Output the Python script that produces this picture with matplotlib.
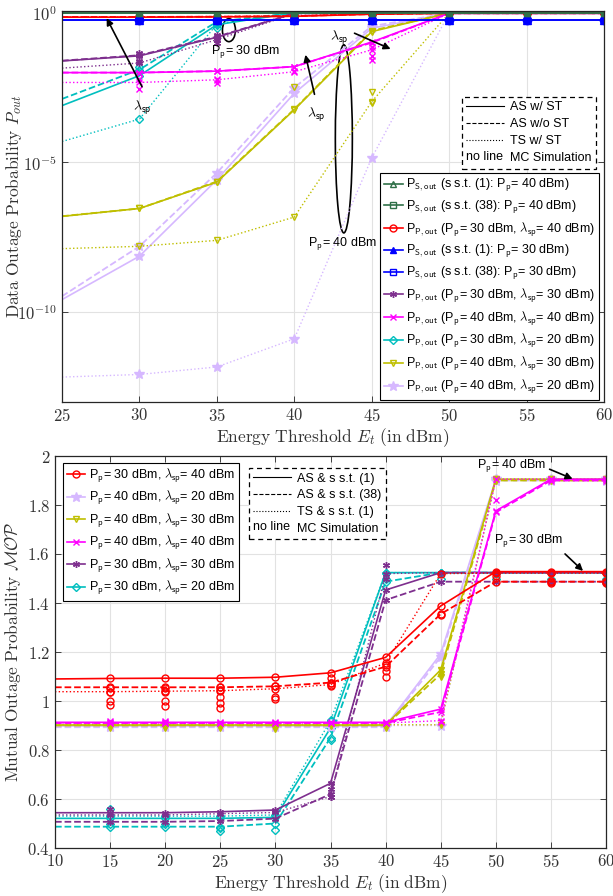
import matplotlib
matplotlib.use("Agg")
import matplotlib.pyplot as plt
from matplotlib.lines import Line2D
from matplotlib.patches import Ellipse
from matplotlib.text import Text
from matplotlib.ticker import FixedLocator, FuncFormatter, NullLocator
from matplotlib.legend_handler import HandlerBase

plt.rcParams["font.family"] = ["Liberation Sans", "DejaVu Sans"]
plt.rcParams["mathtext.fontset"] = "cm"

# ---------------- top panel : data outage probability (log scale)
et_top = [25, 30, 35, 40, 45, 50, 55, 60]

ps_s1_40 = [0.977, 0.977, 0.977, 0.977, 0.977, 0.977, 0.977, 0.977]
ps_s38_40 = [0.975, 0.975, 0.975, 0.975, 0.975, 0.975, 0.975, 0.975]
ps_s1_30 = [0.575, 0.575, 0.575, 0.575, 0.575, 0.575, 0.575, 0.575]
ps_s38_30 = [0.572, 0.572, 0.572, 0.572, 0.572, 0.572, 0.572, 0.572]

red_top_solid = [0.708, 0.708, 0.724, 0.759, 0.891, 0.96, 0.96, 0.96]
red_top_dashed = [0.72, 0.72, 0.735, 0.77, 0.9, 0.96, 0.96, 0.96]
red_top_dotted = [0.73, 0.73, 0.745, 0.78, 0.91, 0.96, 0.96, 0.96]

pur_top_solid = [2.45e-2, 3.63e-2, 0.151, 0.955, 0.96, 0.96, 0.96, 0.96]
pur_top_dashed = [2.5e-2, 3.8e-2, 0.158, 0.955, 0.96, 0.96, 0.96, 0.96]
pur_top_dotted = [1.41e-2, 2.09e-2, 0.126, 0.933, 0.96, 0.96, 0.96, 0.96]
pur_top_mc_x = [30, 30, 35, 35, 35]
pur_top_mc_y = [4.47e-2, 2.5e-2, 0.178, 0.141, 0.1]

mag_top_solid = [1.0e-2, 1.0e-2, 1.12e-2, 1.58e-2, 0.105, 0.96, 0.96, 0.96]
mag_top_dashed = [1.0e-2, 1.0e-2, 1.12e-2, 1.58e-2, 0.1, 0.96, 0.96, 0.96]
mag_top_dotted = [4.68e-3, 4.68e-3, 5.75e-3, 1.07e-2, 5.75e-2, 0.96, 0.96, 0.96]
mag_top_mc_x = [30, 30, 35, 35, 40, 45, 45, 45]
mag_top_mc_y = [6.3e-3, 2.82e-3, 6.3e-3, 4.47e-3, 1.12e-2, 7.4e-2, 3.55e-2, 2.63e-2]

cya_top_solid = [7.9e-4, 7.9e-3, 0.398, 0.99, 0.99, 0.97, 0.97, 0.97]
cya_top_dashed = [1.32e-3, 1.26e-2, 0.5, 0.99, 0.99, 0.97, 0.97, 0.97]
cya_top_dotted = [5.0e-5, 2.8e-4, 0.417, 0.99, 0.99, 0.97, 0.97, 0.97]
cya_top_mc_x = [30, 30, 35, 35]
cya_top_mc_y = [1.58e-2, 1.12e-2, 0.447, 0.316]

oli_top_solid = [1.58e-7, 2.9e-7, 2.2e-6, 5.75e-4, 0.234, 0.97, 0.97, 0.97]
oli_top_dashed = [1.6e-7, 2.9e-7, 2.3e-6, 6.0e-4, 0.25, 0.97, 0.97, 0.97]
oli_top_dotted = [1.32e-8, 1.58e-8, 2.5e-8, 1.5e-7, 1.07e-3, 0.97, 0.97, 0.97]
oli_top_mc_x = [40, 45, 45]
oli_top_mc_y = [3.2e-3, 2.24e-3, 1.0e-3]

vio_top_solid = [2.63e-10, 7.4e-9, 2.63e-6, 2.04e-3, 0.302, 0.97, 0.97, 0.97]
vio_top_dashed = [3.4e-10, 1.58e-8, 4.47e-6, 3.16e-3, 0.355, 0.97, 0.97, 0.97]
vio_top_dotted = [6.8e-13, 8.3e-13, 1.48e-12, 1.29e-11, 1.41e-5, 0.97, 0.97, 0.97]

# ---------------- bottom panel : mutual outage probability
et_bot = [10, 15, 20, 25, 30, 35, 40, 45, 50, 55, 60]

red_bot_solid = [1.090, 1.092, 1.093, 1.093, 1.097, 1.115, 1.178, 1.388, 1.528, 1.528, 1.528]
red_bot_dashed = [1.056, 1.056, 1.056, 1.056, 1.060, 1.075, 1.140, 1.355, 1.487, 1.487, 1.487]
red_bot_dotted = [1.038, 1.038, 1.040, 1.042, 1.050, 1.067, 1.155, 1.520, 1.522, 1.522, 1.522]
red_bot_mc_x = [15, 15, 15, 15, 20, 20, 20, 20, 25, 25, 25, 25, 25, 30, 30, 30,
                35, 35, 35, 40, 40, 40, 45, 50, 55, 55, 60, 60]
red_bot_mc_y = [1.055, 1.035, 1.0, 0.985, 1.055, 1.035, 1.0, 0.98, 1.058, 1.017, 0.99, 0.973, 1.045,
                1.061, 1.018, 1.01, 1.093, 1.075, 1.061, 1.147, 1.124, 1.099, 1.351, 1.51, 1.49, 1.48,
                1.49, 1.48]

vio_bot_solid = [0.898, 0.898, 0.898, 0.898, 0.898, 0.898, 0.898, 1.192, 1.905, 1.905, 1.905]
vio_bot_dashed = [0.893, 0.893, 0.893, 0.893, 0.893, 0.893, 0.893, 1.18, 1.9, 1.9, 1.9]
vio_bot_dotted = [0.9, 0.9, 0.9, 0.9, 0.9, 0.9, 0.9, 0.9, 1.905, 1.905, 1.905]

oli_bot_solid = [0.902, 0.902, 0.902, 0.902, 0.902, 0.902, 0.902, 1.127, 1.905, 1.905, 1.905]
oli_bot_dashed = [0.9, 0.9, 0.9, 0.9, 0.9, 0.9, 0.9, 1.11, 1.9, 1.9, 1.9]
oli_bot_dotted = [0.903, 0.903, 0.903, 0.903, 0.903, 0.903, 0.903, 0.903, 1.905, 1.905, 1.905]
oli_bot_mc_x = [15, 20, 25, 30, 40, 45]
oli_bot_mc_y = [0.89, 0.89, 0.89, 0.885, 0.89, 1.1]

mag_bot_solid = [0.913, 0.913, 0.913, 0.913, 0.913, 0.913, 0.913, 0.967, 1.776, 1.905, 1.905]
mag_bot_dashed = [0.91, 0.91, 0.91, 0.91, 0.91, 0.91, 0.91, 0.955, 1.77, 1.9, 1.9]
mag_bot_dotted = [0.91, 0.91, 0.91, 0.91, 0.91, 0.91, 0.91, 0.92, 1.905, 1.905, 1.905]
mag_bot_mc_x = [15, 20, 45, 50]
mag_bot_mc_y = [0.92, 0.92, 0.916, 1.82]

pur_bot_solid = [0.544, 0.544, 0.544, 0.548, 0.555, 0.664, 1.453, 1.524, 1.524, 1.524, 1.524]
pur_bot_dashed = [0.507, 0.507, 0.507, 0.51, 0.52, 0.62, 1.412, 1.487, 1.487, 1.487, 1.487]
pur_bot_dotted = [0.535, 0.535, 0.535, 0.54, 0.545, 0.61, 1.52, 1.524, 1.524, 1.524, 1.524]
pur_bot_mc_x = [15, 35, 35, 40, 40]
pur_bot_mc_y = [0.56, 0.64, 0.61, 1.555, 1.5]

cya_bot_solid = [0.521, 0.521, 0.521, 0.521, 0.525, 0.89, 1.524, 1.524, 1.524, 1.524, 1.524]
cya_bot_dashed = [0.487, 0.487, 0.487, 0.487, 0.5, 0.85, 1.487, 1.524, 1.524, 1.524, 1.524]
cya_bot_dotted = [0.53, 0.53, 0.53, 0.53, 0.535, 0.92, 1.524, 1.524, 1.524, 1.524, 1.524]
cya_bot_mc_x = [15, 15, 20, 25, 25, 30, 35, 35, 40, 45, 50, 55, 60, 60]
cya_bot_mc_y = [0.56, 0.5, 0.5, 0.48, 0.47, 0.475, 0.922, 0.841, 1.5, 1.5, 1.5, 1.5, 1.5, 1.48]

C_GREEN = "#2F7048"
C_RED = "#FF0000"
C_BLUE = "#0000FF"
C_PUR = "#7E2F8E"
C_MAG = "#FF00FF"
C_CYA = "#00BFBF"
C_OLI = "#BFBF00"
C_VIO = "#D6B8FF"
ASTER = (6, 2, 0)


def mk(color, marker, filled, ms=5):
    return dict(color=color, marker=marker, markersize=ms, markeredgewidth=1.0,
                markerfacecolor=color if filled else "none")


def draw(ax, x, lines, color, marker, filled, mc=None, ms=5):
    kw = mk(color, marker, filled, ms)
    for y, ls, lw in zip(lines, ["-", "--", ":"], [1.2, 1.3, 1.0]):
        if y is not None:
            ax.plot(x, y, ls=ls, lw=lw, markevery=slice(1, None), **kw)
    if mc is not None:
        ax.plot(mc[0], mc[1], ls="none", **kw)


class TextHandle(HandlerBase):
    def __init__(self, txt):
        super().__init__()
        self.txt = txt

    def create_artists(self, legend, orig_handle, xdescent, ydescent, width, height, fontsize, trans):
        t = Text(-xdescent, -ydescent + height / 2, self.txt, fontsize=fontsize,
                 va="center", ha="left", transform=trans, family="Liberation Sans")
        return [t]


def style_legend(ax, labels, loc_xy, fs=9, spacing=0.4, hlen=3.0):
    nl = Line2D([], [], ls="none")
    handles = [Line2D([], [], color="k", lw=0.8, ls="-"),
               Line2D([], [], color="k", lw=0.8, ls="--"),
               Line2D([], [], color="k", lw=0.8, ls=":"), nl]
    leg = ax.legend(handles, labels, loc="upper left", bbox_to_anchor=loc_xy, borderaxespad=0,
                    fontsize=fs, handlelength=hlen, handletextpad=0.5, labelspacing=spacing,
                    fancybox=False, framealpha=1, edgecolor="k", borderpad=0.35,
                    handler_map={nl: TextHandle("no line")})
    leg.get_frame().set_linestyle((0, (4, 3)))
    leg.get_frame().set_linewidth(0.9)
    return leg


fig = plt.figure(figsize=(6.13, 8.96), dpi=100)
ax1 = fig.add_axes([62 / 613, 1 - 402 / 896, 542 / 613, 391 / 896])
ax2 = fig.add_axes([55 / 613, 1 - 848 / 896, 551 / 613, 392 / 896])

for ax in (ax1, ax2):
    ax.grid(True, color="#e2e2e2", lw=0.8)
    ax.set_axisbelow(True)
    ax.tick_params(direction="in", top=True, right=True, length=4, width=0.6,
                   labelsize=12, labelcolor="#333333", color="#262626")
    for s in ax.spines.values():
        s.set_color("#262626")
        s.set_linewidth(0.9)

# ---- top plot
ax1.set_yscale("log")
draw(ax1, et_top, [vio_top_solid, vio_top_dashed, vio_top_dotted], C_VIO, "*", True, ms=7)
draw(ax1, et_top, [oli_top_solid, oli_top_dashed, oli_top_dotted], C_OLI, "v", False,
     (oli_top_mc_x, oli_top_mc_y))
draw(ax1, et_top, [cya_top_solid, cya_top_dashed, cya_top_dotted], C_CYA, "D", False,
     (cya_top_mc_x, cya_top_mc_y), ms=4.5)
draw(ax1, et_top, [mag_top_solid, mag_top_dashed, mag_top_dotted], C_MAG, "x", False,
     (mag_top_mc_x, mag_top_mc_y))
draw(ax1, et_top, [pur_top_solid, pur_top_dashed, pur_top_dotted], C_PUR, ASTER, False,
     (pur_top_mc_x, pur_top_mc_y))
draw(ax1, et_top, [red_top_solid, red_top_dashed, red_top_dotted], C_RED, "o", False)
draw(ax1, et_top, [ps_s1_30, None, None], C_BLUE, "^", True, ms=6)
draw(ax1, et_top, [ps_s38_30, None, None], C_BLUE, "o", True, ms=6)
draw(ax1, et_top, [ps_s1_40, None, None], C_GREEN, "^", True)
draw(ax1, et_top, [ps_s38_40, None, None], C_GREEN, "s", True)

ax1.set_xlim(25, 60)
ax1.set_ylim(1e-13, 1.14)
ax1.xaxis.set_major_locator(FixedLocator(et_top))
ax1.xaxis.set_major_formatter(FuncFormatter(lambda v, p: f"${v:g}$"))
ax1.yaxis.set_major_locator(FixedLocator([1e-10, 1e-5, 1.0]))
ax1.yaxis.set_minor_locator(NullLocator())
ax1.yaxis.set_major_formatter(FuncFormatter(
    lambda v, p: {1.0: r"$10^{0}$", 1e-5: r"$10^{-5}$", 1e-10: r"$10^{-10}$"}.get(v, "")))
ax1.set_xlabel(r"$\mathrm{Energy\ Threshold}\ E_t\ \mathrm{(in\ dBm)}$", fontsize=12.5,
               color="#333333", labelpad=2)
ax1.set_ylabel(r"$\mathrm{Data\ Outage\ Probability}\ P_{out}$", fontsize=12.5,
               color="#333333")
ax1.yaxis.set_label_coords(-0.071, 0.5)

top_labels = [
    r"P$_{\mathsf{S,out}}$ (s s.t. (1): P$_{\mathsf{p}}$= 40 dBm)",
    r"P$_{\mathsf{S,out}}$ (s s.t. (38): P$_{\mathsf{p}}$= 40 dBm)",
    r"P$_{\mathsf{P,out}}$ (P$_{\mathsf{p}}$= 30 dBm, $\lambda_{\mathsf{sp}}$= 40 dBm)",
    r"P$_{\mathsf{S,out}}$ (s s.t. (1): P$_{\mathsf{p}}$= 30 dBm)",
    r"P$_{\mathsf{S,out}}$ (s s.t. (38): P$_{\mathsf{p}}$= 30 dBm)",
    r"P$_{\mathsf{P,out}}$ (P$_{\mathsf{p}}$= 30 dBm, $\lambda_{\mathsf{sp}}$= 30 dBm)",
    r"P$_{\mathsf{P,out}}$ (P$_{\mathsf{p}}$= 40 dBm, $\lambda_{\mathsf{sp}}$= 40 dBm)",
    r"P$_{\mathsf{P,out}}$ (P$_{\mathsf{p}}$= 30 dBm, $\lambda_{\mathsf{sp}}$= 20 dBm)",
    r"P$_{\mathsf{P,out}}$ (P$_{\mathsf{p}}$= 40 dBm, $\lambda_{\mathsf{sp}}$= 30 dBm)",
    r"P$_{\mathsf{P,out}}$ (P$_{\mathsf{p}}$= 40 dBm, $\lambda_{\mathsf{sp}}$= 20 dBm)",
]
top_styles = [(C_GREEN, "^", False, 5), (C_GREEN, "s", False, 4), (C_RED, "o", False, 5),
              (C_BLUE, "^", True, 5), (C_BLUE, "s", False, 4), (C_PUR, ASTER, False, 5),
              (C_MAG, "x", False, 5), (C_CYA, "D", False, 4.5), (C_OLI, "v", False, 5),
              (C_VIO, "*", True, 7)]
top_handles = [Line2D([], [], lw=1.2, **mk(c, m, f, s)) for c, m, f, s in top_styles]
leg1 = ax1.legend(top_handles, top_labels, loc="upper left", bbox_to_anchor=(0.587, 0.585),
                  borderaxespad=0, fontsize=9, handlelength=1.5, handletextpad=0.3,
                  labelspacing=0.38, fancybox=False, framealpha=1, edgecolor="k", borderpad=0.3)
leg1.get_frame().set_linewidth(0.8)
ax1.add_artist(leg1)
style_legend(ax1, ["AS w/ ST", "AS w/o ST", "TS w/ ST", "MC Simulation"], (0.738, 0.78))

# annotations top
akw = dict(arrowstyle="-|>", color="k", lw=1.2, mutation_scale=10)
tfs = 9
ax1.annotate("", xy=(0.080, 0.988), xytext=(0.150, 0.800), xycoords="axes fraction", arrowprops=akw)
ax1.text(0.148, 0.745, r"$\lambda_{\mathsf{sp}}$", transform=ax1.transAxes, fontsize=10, ha="center")
ax1.add_patch(Ellipse((0.308, 0.951), 0.024, 0.0588, transform=ax1.transAxes, fill=False, lw=1.2, color="k"))
ax1.text(0.339, 0.893, r"P$_{\mathsf{p}}$= 30 dBm", transform=ax1.transAxes, fontsize=tfs,
         ha="center", va="center")
ax1.annotate("", xy=(0.448, 0.895), xytext=(0.467, 0.780), xycoords="axes fraction", arrowprops=akw)
ax1.text(0.470, 0.728, r"$\lambda_{\mathsf{sp}}$", transform=ax1.transAxes, fontsize=10, ha="center")
ax1.add_patch(Ellipse((0.520, 0.673), 0.0314, 0.481, transform=ax1.transAxes, fill=False, lw=1.2, color="k"))
ax1.text(0.517, 0.402, r"P$_{\mathsf{p}}$= 40 dBm", transform=ax1.transAxes, fontsize=tfs,
         ha="center", va="center")
ax1.annotate("", xy=(0.611, 0.900), xytext=(0.535, 0.946), xycoords="axes fraction", arrowprops=akw)
ax1.text(0.512, 0.925, r"$\lambda_{\mathsf{sp}}$", transform=ax1.transAxes, fontsize=10, ha="center")

# ---- bottom plot
draw(ax2, et_bot, [cya_bot_solid, cya_bot_dashed, cya_bot_dotted], C_CYA, "D", False,
     (cya_bot_mc_x, cya_bot_mc_y), ms=4.5)
draw(ax2, et_bot, [pur_bot_solid, pur_bot_dashed, pur_bot_dotted], C_PUR, ASTER, False,
     (pur_bot_mc_x, pur_bot_mc_y))
draw(ax2, et_bot, [vio_bot_solid, vio_bot_dashed, vio_bot_dotted], C_VIO, "*", True, ms=7)
draw(ax2, et_bot, [oli_bot_solid, oli_bot_dashed, oli_bot_dotted], C_OLI, "v", True,
     (oli_bot_mc_x, oli_bot_mc_y))
draw(ax2, et_bot, [mag_bot_solid, mag_bot_dashed, mag_bot_dotted], C_MAG, "x", False,
     (mag_bot_mc_x, mag_bot_mc_y))
draw(ax2, et_bot, [red_bot_solid, red_bot_dashed, red_bot_dotted], C_RED, "o", False,
     (red_bot_mc_x, red_bot_mc_y))

ax2.set_xlim(10, 60)
ax2.set_ylim(0.4, 2.0)
ax2.xaxis.set_major_locator(FixedLocator(et_bot))
ax2.xaxis.set_major_formatter(FuncFormatter(lambda v, p: f"${v:g}$"))
ax2.yaxis.set_major_locator(FixedLocator([0.4, 0.6, 0.8, 1.0, 1.2, 1.4, 1.6, 1.8, 2.0]))
ax2.yaxis.set_major_formatter(FuncFormatter(lambda v, p: f"${v:g}$"))
ax2.set_xlabel(r"$\mathrm{Energy\ Threshold}\ E_t\ \mathrm{(in\ dBm)}$", fontsize=12.5,
               color="#333333", labelpad=2)
ax2.set_ylabel(r"$\mathrm{Mutual\ Outage\ Probability}\ \mathcal{MOP}$", fontsize=12.5,
               color="#333333")
ax2.yaxis.set_label_coords(-0.058, 0.5)

bot_labels = [
    r"P$_{\mathsf{p}}$= 30 dBm, $\lambda_{\mathsf{sp}}$= 40 dBm",
    r"P$_{\mathsf{p}}$= 40 dBm, $\lambda_{\mathsf{sp}}$= 20 dBm",
    r"P$_{\mathsf{p}}$= 40 dBm, $\lambda_{\mathsf{sp}}$= 30 dBm",
    r"P$_{\mathsf{p}}$= 40 dBm, $\lambda_{\mathsf{sp}}$= 40 dBm",
    r"P$_{\mathsf{p}}$= 30 dBm, $\lambda_{\mathsf{sp}}$= 30 dBm",
    r"P$_{\mathsf{p}}$= 30 dBm, $\lambda_{\mathsf{sp}}$= 20 dBm",
]
bot_styles = [(C_RED, "o", False, 5), (C_VIO, "*", True, 7), (C_OLI, "v", False, 5),
              (C_MAG, "x", False, 5), (C_PUR, ASTER, False, 5), (C_CYA, "D", False, 4.5)]
bot_handles = [Line2D([], [], lw=1.2, **mk(c, m, f, s)) for c, m, f, s in bot_styles]
leg2 = ax2.legend(bot_handles, bot_labels, loc="upper left", bbox_to_anchor=(0.0145, 0.982),
                  borderaxespad=0, fontsize=9, handlelength=1.5, handletextpad=0.3,
                  labelspacing=0.36, fancybox=False, framealpha=1, edgecolor="k", borderpad=0.3)
leg2.get_frame().set_linewidth(0.8)
ax2.add_artist(leg2)
style_legend(ax2, ["AS & s s.t. (1)", "AS & s s.t. (38)", "TS & s s.t. (1)", "MC Simulation"],
             (0.352, 0.969), spacing=0.38)

ax2.text(0.828, 0.974, r"P$_{\mathsf{p}}$= 40 dBm", transform=ax2.transAxes, fontsize=tfs,
         ha="center", va="center")
ax2.annotate("", xy=(0.944, 0.939), xytext=(0.893, 0.969), xycoords="axes fraction", arrowprops=akw)
ax2.text(0.860, 0.781, r"P$_{\mathsf{p}}$= 30 dBm", transform=ax2.transAxes, fontsize=tfs,
         ha="center", va="center")
ax2.annotate("", xy=(0.962, 0.702), xytext=(0.922, 0.755), xycoords="axes fraction", arrowprops=akw)

fig.savefig("out.png", dpi=100)
